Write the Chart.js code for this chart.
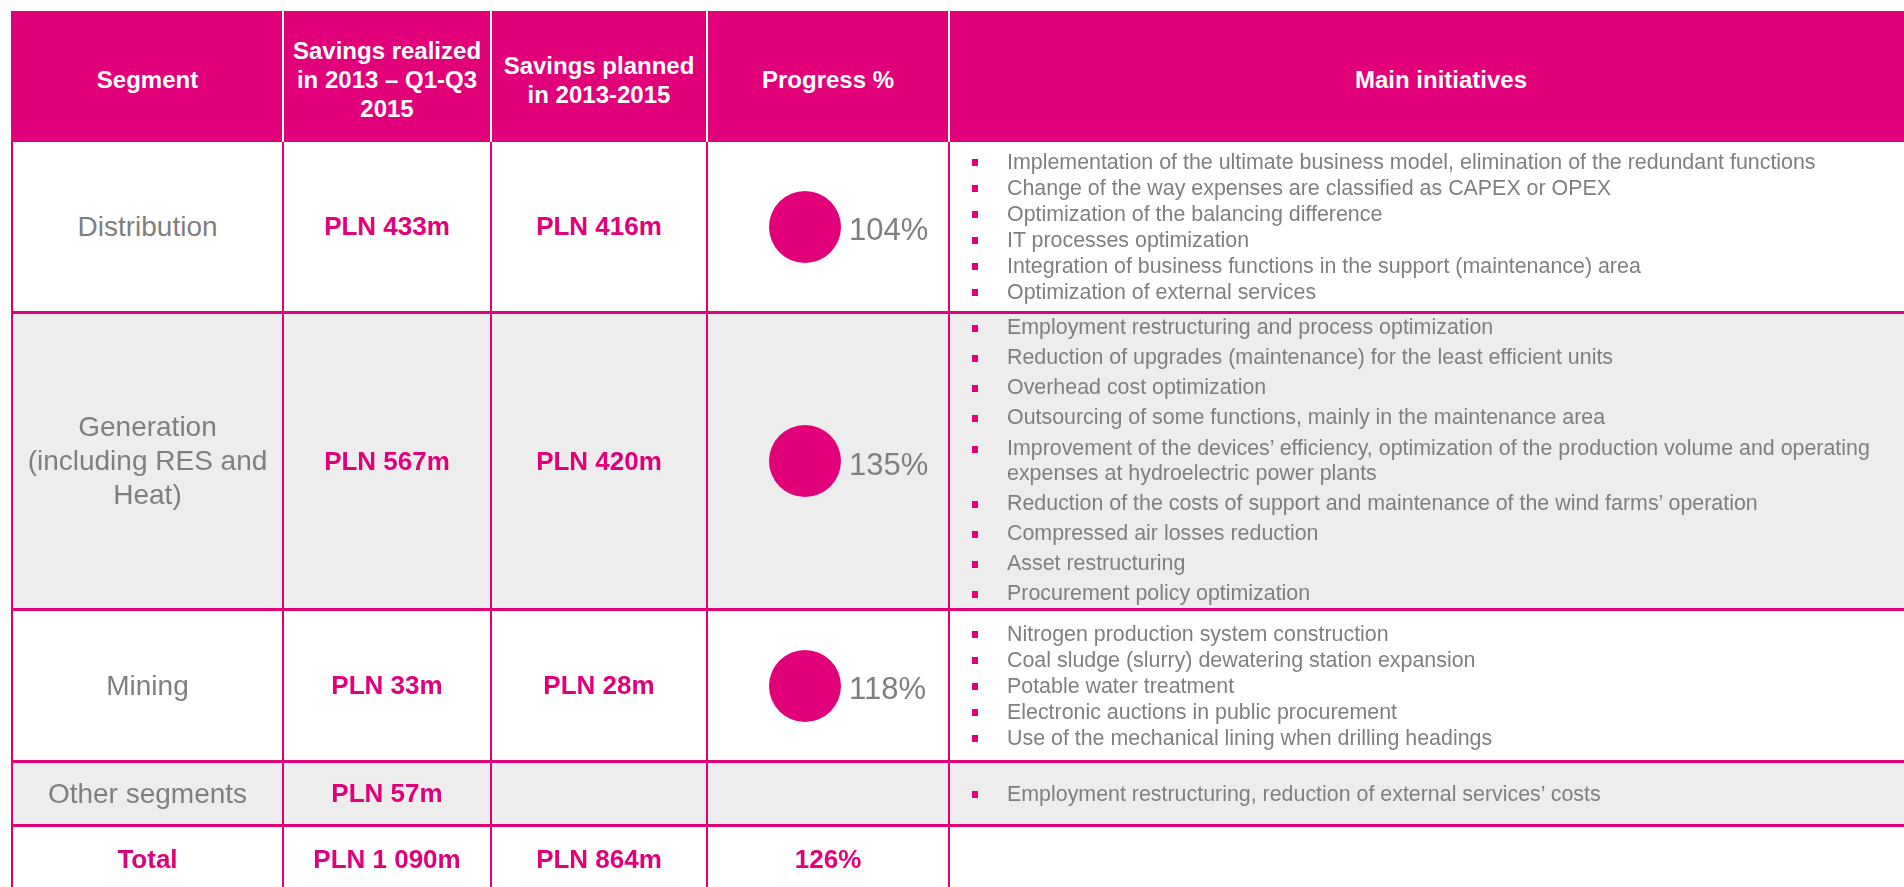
<!DOCTYPE html>
<html>
<head>
<meta charset="utf-8">
<title>Savings by segment</title>
<script src="https://cdn.jsdelivr.net/npm/chart.js"></script>
<style>
  html, body { margin: 0; padding: 0; background: #fff; overflow: hidden; width: 1904px; height: 887px; }
  body { font-family: "Liberation Sans", Arial, sans-serif; }
  #grid {
    position: absolute; left: 11px; top: 11px;
    display: grid;
    grid-template-columns: 271px 208px 216px 242px 982px;
    grid-template-rows: 131px 172px 297px 152px 64px 68px;
    border-left: 2px solid #e2007a;
  }
  .cell {
    box-sizing: border-box;
    border-right: 2px solid #e2007a;
    border-bottom: 3px solid #e2007a;
    display: flex; align-items: center; justify-content: center;
    text-align: center;
  }
  .head {
    background: #e2007a; color: #fff; font-weight: bold; font-size: 24px; line-height: 29px;
    border-right: 2px solid #fff; border-bottom: 0; padding-top: 6px; white-space: pre-line;
  }
  .head.last { border-right: 0; }
  .grey { background: #ededed; }
  .seg { color: #7f7f7f; font-size: 28px; line-height: 34px; white-space: pre-line; }
  .val { color: #e2007a; font-weight: bold; font-size: 26px; }
  .prog { justify-content: flex-start; padding-left: 61px; }
  .prog span { color: #7f7f7f; font-size: 31px; line-height: 1; margin-left: 8px; padding-top: 6px; }
  .init { justify-content: flex-start; padding-right: 40px; }
  .init ul { list-style: none; margin: 0 0 0 57px; padding: 0; text-align: left; }
  .init li { position: relative; color: #7f7f7f; font-size: 21.4px; line-height: 26px; }
  .init li::before {
    content: ""; position: absolute; left: -35px; top: 10px; width: 6px; height: 7px; background: #e2007a;
  }
  .init ul.loose li { line-height: 25.5px; margin-bottom: 4.6px; }
  .init ul.loose li:last-child { margin-bottom: 0; }
</style>
</head>
<body>
<div id="grid"></div>
<script>
// table data
const headers = ["Segment", "Savings realized\nin 2013 \u2013 Q1-Q3\n2015", "Savings planned\nin 2013-2015", "Progress %", "Main initiatives"];
const segments = ["Distribution", "Generation\n(including RES and\nHeat)", "Mining", "Other segments"];
const realized = [433, 567, 33, 57];
const planned = [416, 420, 28, null];
const progress = [104, 135, 118, null];
const totalLabel = "Total";
const totalRealized = 1090;
const totalPlanned = 864;
const totalProgress = 126;

const initDistribution = [
  "Implementation of the ultimate business model, elimination of the redundant functions",
  "Change of the way expenses are classified as CAPEX or OPEX",
  "Optimization of the balancing difference",
  "IT processes optimization",
  "Integration of business functions in the support (maintenance) area",
  "Optimization of external services"
];
const initGeneration = [
  "Employment restructuring and process optimization",
  "Reduction of upgrades (maintenance) for the least efficient units",
  "Overhead cost optimization",
  "Outsourcing of some functions, mainly in the maintenance area",
  "Improvement of the devices\u2019 efficiency, optimization of the production volume and operating expenses at hydroelectric power plants",
  "Reduction of the costs of support and maintenance of the wind farms\u2019 operation",
  "Compressed air losses reduction",
  "Asset restructuring",
  "Procurement policy optimization"
];
const initMining = [
  "Nitrogen production system construction",
  "Coal sludge (slurry) dewatering station expansion",
  "Potable water treatment",
  "Electronic auctions in public procurement",
  "Use of the mechanical lining when drilling headings"
];
const initOther = [
  "Employment restructuring, reduction of external services\u2019 costs"
];
const initiatives = [initDistribution, initGeneration, initMining, initOther];

const pink = "#e2007a";
const grid = document.getElementById("grid");

function pln(n) {
  if (n === null) return "";
  return "PLN " + String(n).replace(/\B(?=(\d{3})+(?!\d))/g, " ") + "m";
}

function addCell(cls, html) {
  const d = document.createElement("div");
  d.className = "cell " + cls;
  d.innerHTML = html;
  grid.appendChild(d);
  return d;
}

headers.forEach((h, i) => {
  const d = addCell("head" + (i === headers.length - 1 ? " last" : ""), "");
  d.textContent = h;
});

const pies = [];
segments.forEach((s, i) => {
  const bg = i % 2 === 1 ? " grey" : "";
  const c = addCell("seg" + bg, "");
  c.textContent = s;
  addCell("val" + bg, pln(realized[i]));
  addCell("val" + bg, pln(planned[i]));
  const p = addCell("prog" + bg, "");
  if (progress[i] !== null) {
    const cv = document.createElement("canvas");
    cv.width = 72; cv.height = 72;
    p.appendChild(cv);
    const sp = document.createElement("span");
    sp.textContent = progress[i] + "%";
    p.appendChild(sp);
    pies.push([cv, progress[i]]);
  }
  const ini = addCell("init" + bg, "");
  const ul = document.createElement("ul");
  if (i === 1) ul.className = "loose";
  initiatives[i].forEach(t => {
    const li = document.createElement("li");
    li.textContent = t;
    ul.appendChild(li);
  });
  ini.appendChild(ul);
});

addCell("val", totalLabel);
addCell("val", pln(totalRealized));
addCell("val", pln(totalPlanned));
addCell("val", totalProgress + "%");
addCell("init", "");

pies.forEach(([cv, val]) => {
  new Chart(cv, {
    type: "pie",
    data: {
      labels: ["done", "left"],
      datasets: [{
        data: [Math.min(val, 100), Math.max(0, 100 - val)],
        backgroundColor: [pink, "rgba(0,0,0,0)"],
        borderWidth: 0
      }]
    },
    options: {
      responsive: false,
      animation: false,
      events: [],
      layout: { padding: 0 },
      plugins: { legend: { display: false }, tooltip: { enabled: false } }
    }
  });
});
</script>
</body>
</html>
